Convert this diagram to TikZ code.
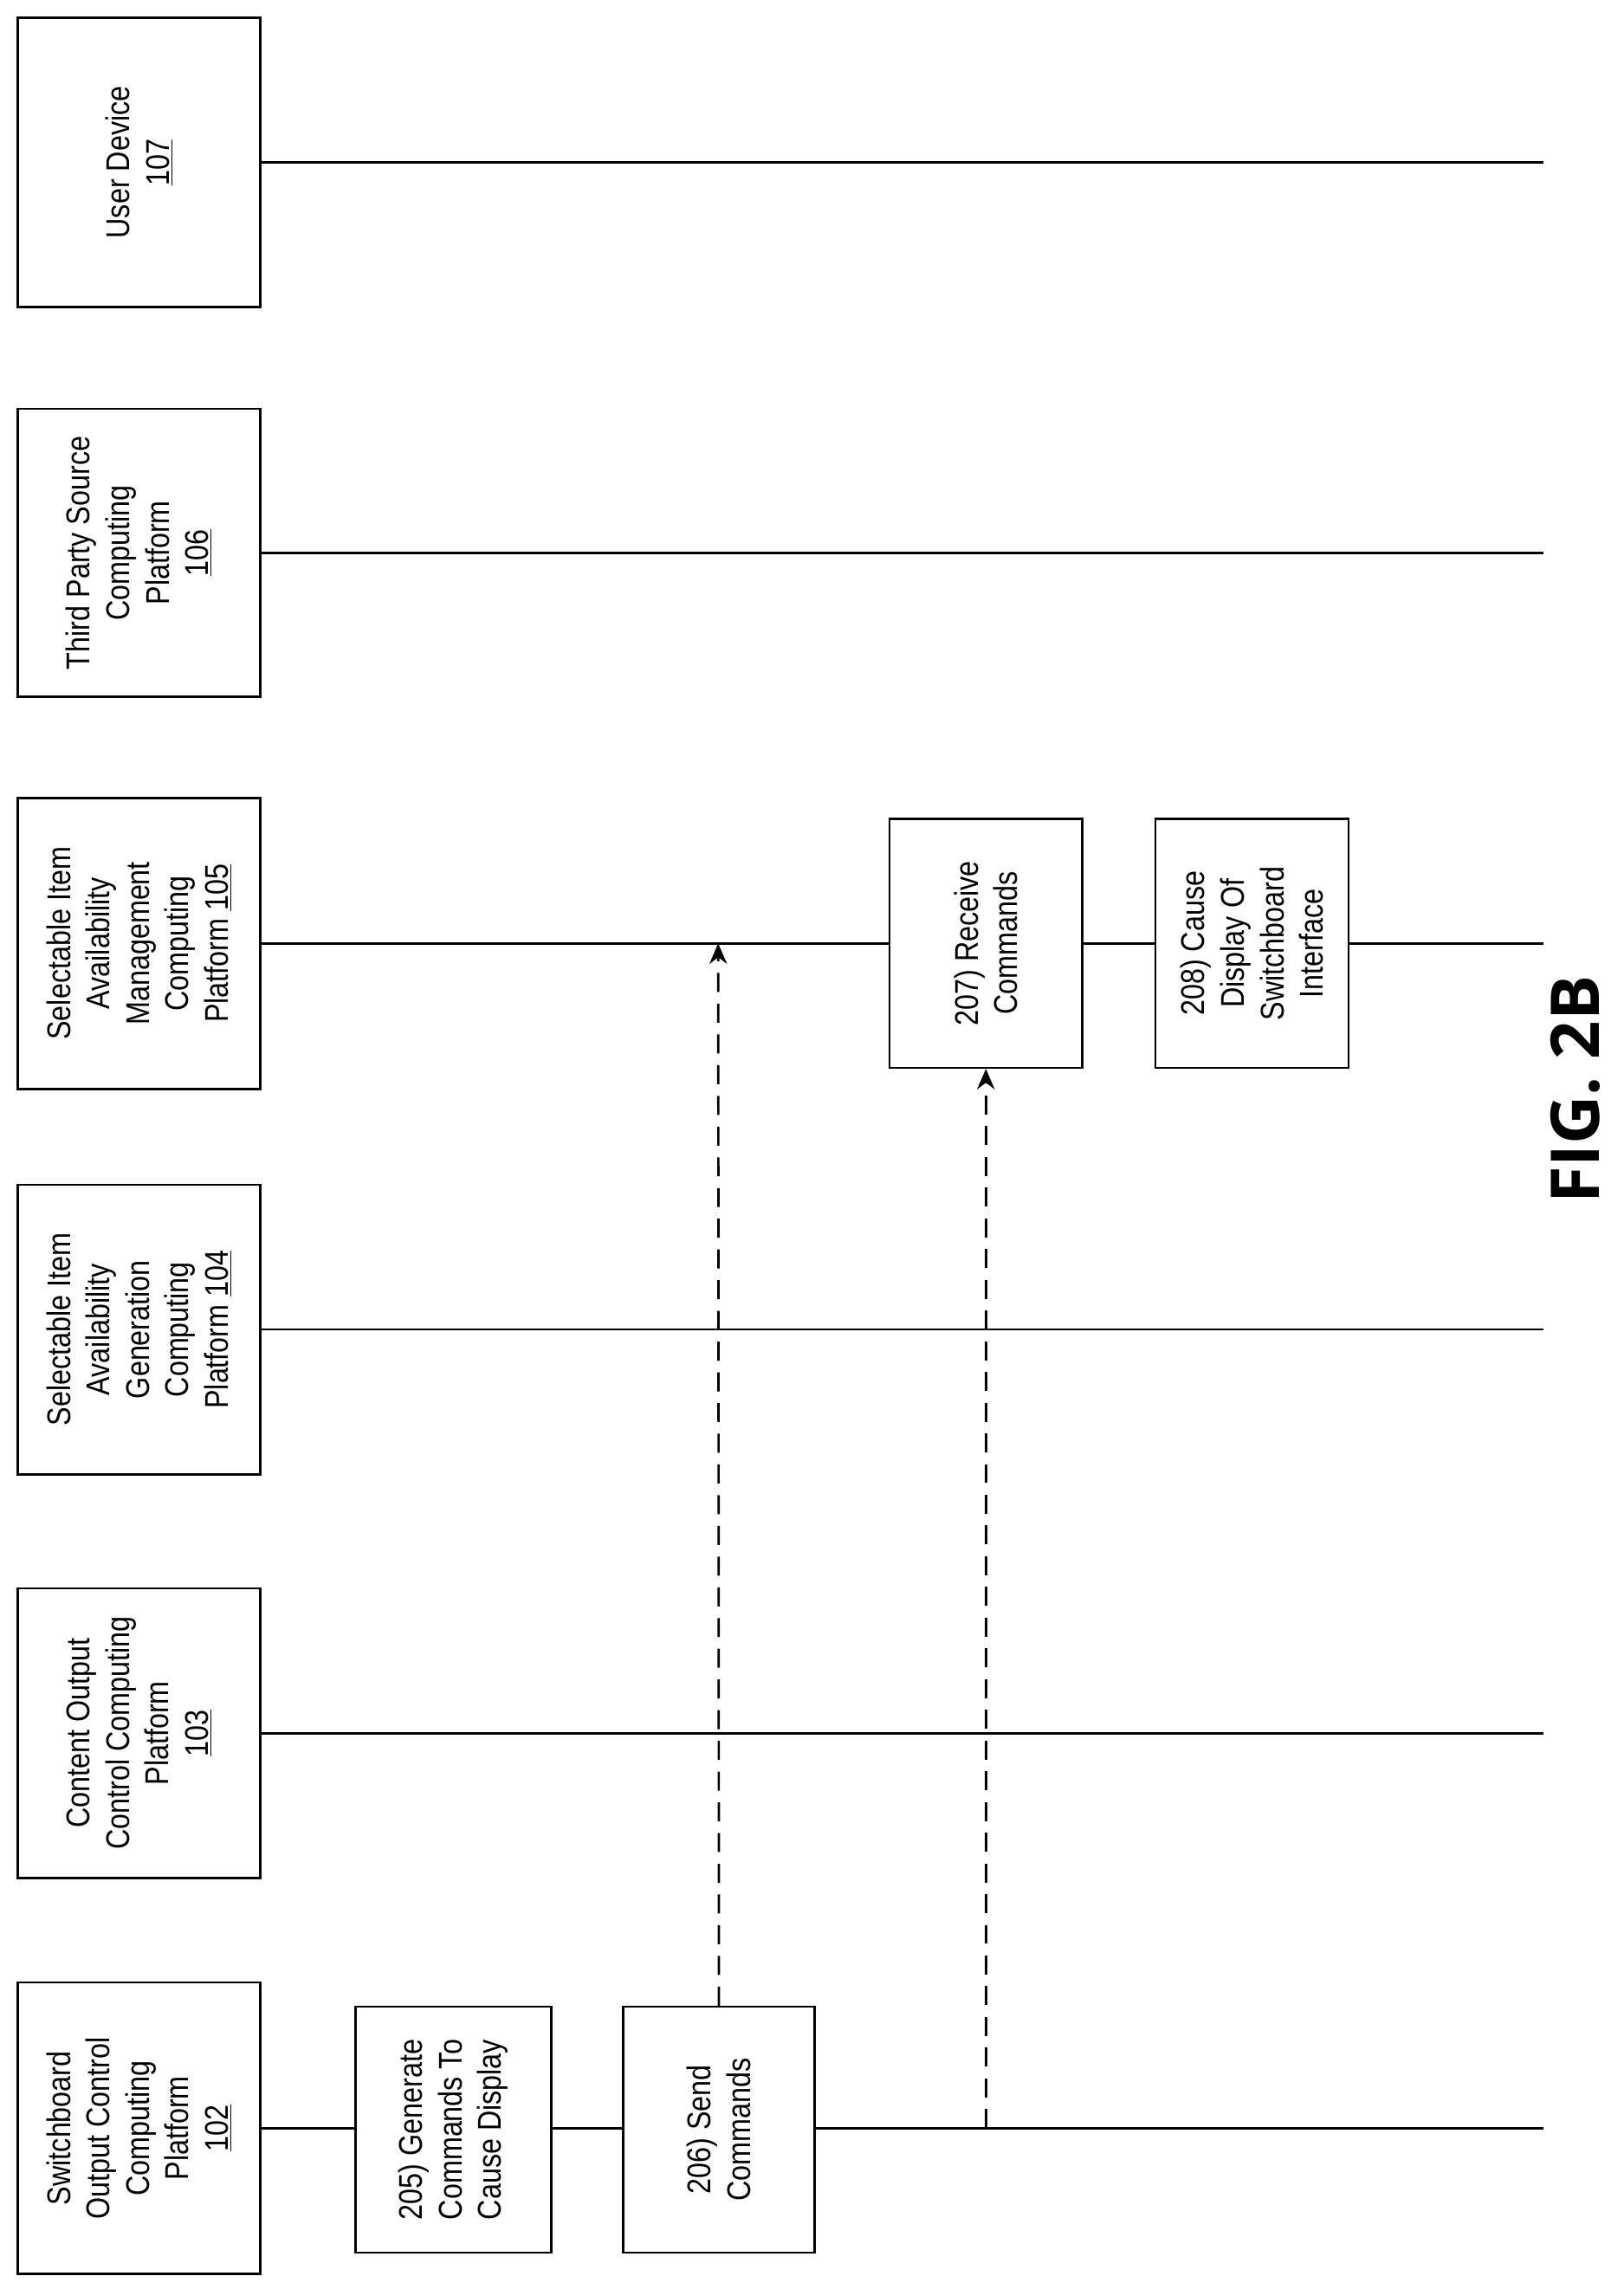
\documentclass[tikz,border=0pt]{standalone}
\usepackage{fontspec}
\setmainfont{Liberation Sans}[FakeStretch=0.85]
\newfontfamily\figfont{Open Sans}
\usetikzlibrary{arrows.meta}
\begin{document}
\begin{tikzpicture}[x=1pt,y=-1pt,
  ent/.style={draw,line width=1.5pt,fill=white,rotate=90,align=center,inner sep=2pt,
    font=\fontsize{22.5}{27}\selectfont},
  life/.style={line width=1.5pt},
  msg/.style={line width=1.6pt,dash pattern=on 13pt off 8pt,-{Stealth[length=14pt,width=12pt]}}]
\useasboundingbox (0,0) rectangle (1110,1565);
% entities
\node[ent,minimum width=198,minimum height=166] (ud) at (95,111) {User Device\\\underline{107}};
\node[ent,minimum width=197,minimum height=166] (tp) at (95,378) {Third Party Source\\Computing\\Platform\\\underline{106}};
\node[ent,minimum width=199,minimum height=166] (sm) at (95,645) {Selectable Item\\Availability\\Management\\Computing\\Platform \underline{105}};
\node[ent,minimum width=198,minimum height=166] (sg) at (95,909) {Selectable Item\\Availability\\Generation\\Computing\\Platform \underline{104}};
\node[ent,minimum width=198,minimum height=166] (co) at (95,1185) {Content Output\\Control Computing\\Platform\\\underline{103}};
\node[ent,minimum width=199,minimum height=166] (sw) at (95,1455) {Switchboard\\Output Control\\Computing\\Platform\\\underline{102}};
% lifeline ends
\coordinate (udE) at (1055,111);
\coordinate (tpE) at (1055,378);
\coordinate (smE) at (1055,645);
\coordinate (sgE) at (1055,909);
\coordinate (coE) at (1055,1185);
\coordinate (swE) at (1055,1455);
\draw[life] (ud.south) -- (udE);
\draw[life] (tp.south) -- (tpE);
\draw[life] (sm.south) -- (smE);
\draw[life] (sg.south) -- (sgE);
\draw[life] (co.south) -- (coE);
\draw[life] (sw.south) -- (swE);
% steps
\node[ent,minimum width=168,minimum height=134] (s205) at (310,1456) {205) Generate\\Commands To\\Cause Display};
\node[ent,minimum width=168,minimum height=131] (s206) at (491.5,1456) {206) Send\\Commands};
\node[ent,minimum width=170,minimum height=132] (s207) at (674,645) {207) Receive\\Commands};
\node[ent,minimum width=170,minimum height=132] (s208) at (856,645) {208) Cause\\Display Of\\Switchboard\\Interface};
% messages
\coordinate (a1) at (491,645);
\coordinate (b2) at (674,1455);
\draw[msg] (s206.east) -- (a1);
\draw[msg] (b2) -- (s207.west);
\node[rotate=90,font=\figfont\bfseries\fontsize{46}{50}\selectfont] (fig) at (1077,745) {FIG. 2B};
\end{tikzpicture}
\end{document}
